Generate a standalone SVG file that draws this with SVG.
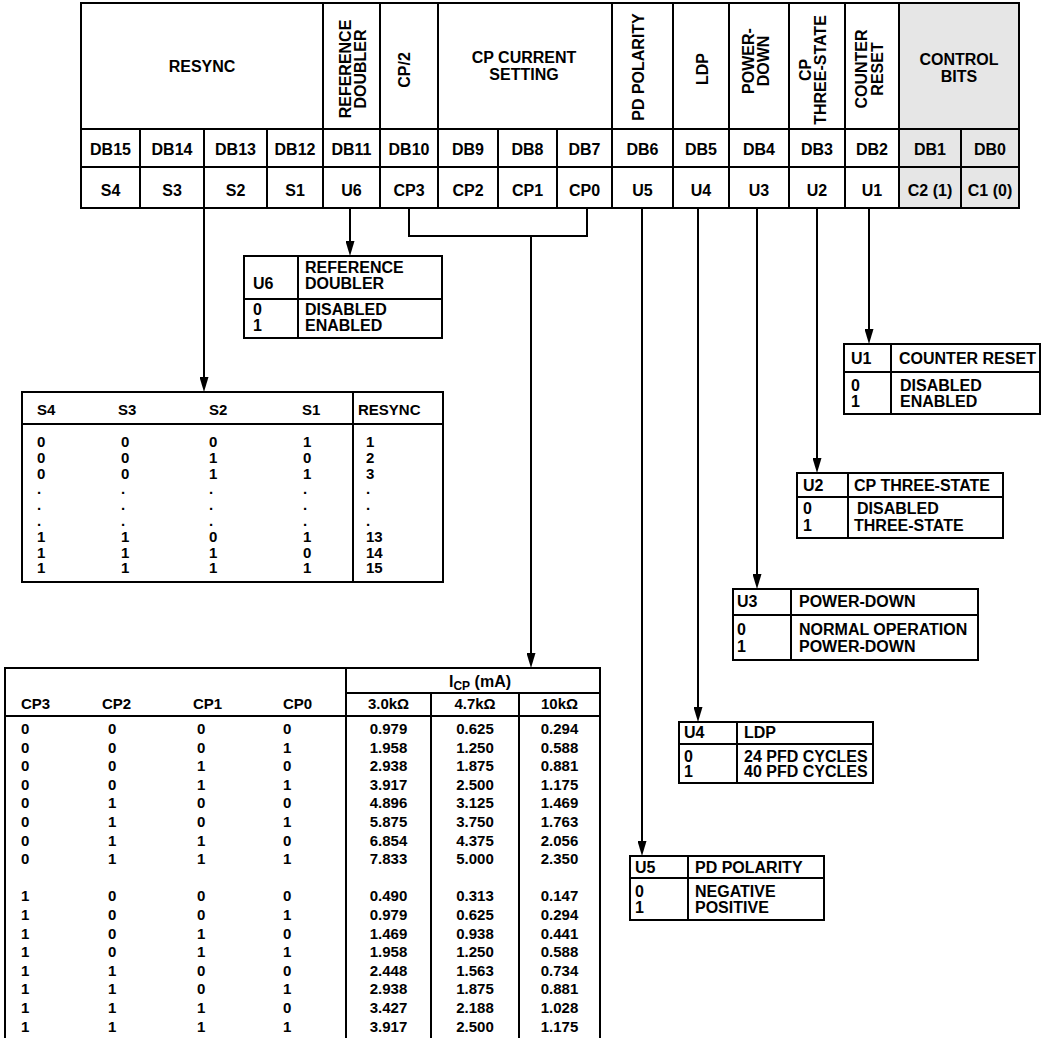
<svg xmlns="http://www.w3.org/2000/svg" width="1042" height="1038" viewBox="0 0 1042 1038">
<defs>
<style>
text{font-family:"Liberation Sans",Arial,Helvetica,sans-serif;font-weight:bold;fill:#000}
.f16{font-size:16px}
.f15{font-size:15px}
.m{text-anchor:middle}
.ln{stroke:#000;stroke-width:2;fill:none}
.box{fill:#fff;stroke:#000;stroke-width:2}
.wire{stroke:#000;stroke-width:2;fill:none}
.arr{marker-end:url(#arr)}
</style>
<marker id="arr" markerUnits="userSpaceOnUse" viewBox="0 0 15 9" markerWidth="15" markerHeight="9" refX="9" refY="4.5" orient="auto">
<path d="M0,0 L15,4.5 L0,9 Z" fill="#000"/>
</marker>
</defs>
<rect width="1042" height="1038" fill="#fff"/>

<g id="register">
<rect x="899" y="3" width="120" height="205" fill="#e6e6e6"/>
<rect x="81" y="3" width="938" height="205" class="ln"/>
<path class="ln" d="M81 129H1019M81 167H1019M323 3V208M380 3V208M438 3V208M612 3V208M673 3V208M729 3V208M789 3V208M845 3V208M899 3V208M140 129V208M204 129V208M267 129V208M498 129V208M557 129V208M961 129V208"/>
<g class="f16">
<text x="202" y="72" class="m">RESYNC</text>
<text transform="translate(351,69) rotate(-90)" class="m">REFERENCE</text>
<text transform="translate(366,69) rotate(-90)" class="m">DOUBLER</text>
<text transform="translate(410,70) rotate(-90)" class="m">CP/2</text>
<text x="524" y="63" class="m">CP CURRENT</text>
<text x="524" y="80" class="m">SETTING</text>
<text transform="translate(644,67) rotate(-90)" class="m">PD POLARITY</text>
<text transform="translate(708,69) rotate(-90)" class="m">LDP</text>
<text transform="translate(754,61) rotate(-90)" class="m">POWER-</text>
<text transform="translate(769,61) rotate(-90)" class="m">DOWN</text>
<text transform="translate(811,70) rotate(-90)" class="m">CP</text>
<text transform="translate(826,70) rotate(-90)" class="m">THREE-STATE</text>
<text transform="translate(867,69) rotate(-90)" class="m">COUNTER</text>
<text transform="translate(883,69) rotate(-90)" class="m">RESET</text>
<text x="959" y="65" class="m">CONTROL</text>
<text x="959" y="82" class="m">BITS</text>
</g>
<g class="f16 m">
<text x="110.5" y="155" class="m">DB15</text>
<text x="172" y="155" class="m">DB14</text>
<text x="235.5" y="155" class="m">DB13</text>
<text x="295" y="155" class="m">DB12</text>
<text x="351.5" y="155" class="m">DB11</text>
<text x="409" y="155" class="m">DB10</text>
<text x="468" y="155" class="m">DB9</text>
<text x="527.5" y="155" class="m">DB8</text>
<text x="584.5" y="155" class="m">DB7</text>
<text x="642.5" y="155" class="m">DB6</text>
<text x="701" y="155" class="m">DB5</text>
<text x="759" y="155" class="m">DB4</text>
<text x="817" y="155" class="m">DB3</text>
<text x="872" y="155" class="m">DB2</text>
<text x="930" y="155" class="m">DB1</text>
<text x="990" y="155" class="m">DB0</text>
<text x="110.5" y="196" class="m">S4</text>
<text x="172" y="196" class="m">S3</text>
<text x="235.5" y="196" class="m">S2</text>
<text x="295" y="196" class="m">S1</text>
<text x="351.5" y="196" class="m">U6</text>
<text x="409" y="196" class="m">CP3</text>
<text x="468" y="196" class="m">CP2</text>
<text x="527.5" y="196" class="m">CP1</text>
<text x="584.5" y="196" class="m">CP0</text>
<text x="642.5" y="196" class="m">U5</text>
<text x="701" y="196" class="m">U4</text>
<text x="759" y="196" class="m">U3</text>
<text x="817" y="196" class="m">U2</text>
<text x="872" y="196" class="m">U1</text>
<text x="930" y="196" class="m">C2 (1)</text>
<text x="990" y="196" class="m">C1 (0)</text>
</g>
</g>

<g id="connectors">
<path class="wire arr" d="M204 208V386"/>
<path class="wire arr" d="M350 208V250"/>
<path class="wire" d="M409 208V236H587V208"/>
<path class="wire arr" d="M531 236V662"/>
<path class="wire arr" d="M642 208V850"/>
<path class="wire arr" d="M698 208V716"/>
<path class="wire arr" d="M757 208V583"/>
<path class="wire arr" d="M817 208V467"/>
<path class="wire arr" d="M869 208V338"/>
</g>

<g id="u6-table" class="f16">
<rect x="244" y="256" width="198" height="82" class="box"/>
<path class="ln" d="M298 256V338M244 299H442"/>
<text x="253" y="289">U6</text>
<text x="305" y="273">REFERENCE</text>
<text x="305" y="289">DOUBLER</text>
<text x="253" y="315">0</text>
<text x="253" y="331">1</text>
<text x="305" y="315">DISABLED</text>
<text x="305" y="331">ENABLED</text>
</g>

<g id="resync-table" class="f15">
<rect x="22" y="392" width="421" height="190" class="box"/>
<path class="ln" d="M353 392V582M22 424H443"/>
<text x="37" y="415">S4</text>
<text x="118" y="415">S3</text>
<text x="209" y="415">S2</text>
<text x="302" y="415">S1</text>
<text x="358" y="415">RESYNC</text>
<text x="37" y="447"><tspan>0</tspan><tspan x="37" dy="15.8">0</tspan><tspan x="37" dy="15.8">0</tspan><tspan x="37" dy="15.8">.</tspan><tspan x="37" dy="15.8">.</tspan><tspan x="37" dy="15.8">.</tspan><tspan x="37" dy="15.8">1</tspan><tspan x="37" dy="15.8">1</tspan><tspan x="37" dy="15.8">1</tspan></text>
<text x="121" y="447"><tspan>0</tspan><tspan x="121" dy="15.8">0</tspan><tspan x="121" dy="15.8">0</tspan><tspan x="121" dy="15.8">.</tspan><tspan x="121" dy="15.8">.</tspan><tspan x="121" dy="15.8">.</tspan><tspan x="121" dy="15.8">1</tspan><tspan x="121" dy="15.8">1</tspan><tspan x="121" dy="15.8">1</tspan></text>
<text x="209" y="447"><tspan>0</tspan><tspan x="209" dy="15.8">1</tspan><tspan x="209" dy="15.8">1</tspan><tspan x="209" dy="15.8">.</tspan><tspan x="209" dy="15.8">.</tspan><tspan x="209" dy="15.8">.</tspan><tspan x="209" dy="15.8">0</tspan><tspan x="209" dy="15.8">1</tspan><tspan x="209" dy="15.8">1</tspan></text>
<text x="303" y="447"><tspan>1</tspan><tspan x="303" dy="15.8">0</tspan><tspan x="303" dy="15.8">1</tspan><tspan x="303" dy="15.8">.</tspan><tspan x="303" dy="15.8">.</tspan><tspan x="303" dy="15.8">.</tspan><tspan x="303" dy="15.8">1</tspan><tspan x="303" dy="15.8">0</tspan><tspan x="303" dy="15.8">1</tspan></text>
<text x="366" y="447"><tspan>1</tspan><tspan x="366" dy="15.8">2</tspan><tspan x="366" dy="15.8">3</tspan><tspan x="366" dy="15.8">.</tspan><tspan x="366" dy="15.8">.</tspan><tspan x="366" dy="15.8">.</tspan><tspan x="366" dy="15.8">13</tspan><tspan x="366" dy="15.8">14</tspan><tspan x="366" dy="15.8">15</tspan></text>
</g>

<g id="cp-table" class="f15">
<path class="ln" d="M5 1038V668H600V1038M346 668V1038M431 693V1038M519 693V1038M346 693H600M5 716H600"/>
<text x="449" y="687" class="f16">I<tspan font-size="12" dy="3">CP</tspan><tspan dy="-3"> (mA)</tspan></text>
<text x="21" y="709">CP3</text>
<text x="102" y="709">CP2</text>
<text x="193" y="709">CP1</text>
<text x="283" y="709">CP0</text>
<text x="388.5" y="709" class="m">3.0kΩ</text>
<text x="475" y="709" class="m">4.7kΩ</text>
<text x="559.5" y="709" class="m">10kΩ</text>
<text y="734"><tspan x="21">0</tspan><tspan x="21" dy="18.6">0</tspan><tspan x="21" dy="18.6">0</tspan><tspan x="21" dy="18.6">0</tspan><tspan x="21" dy="18.6">0</tspan><tspan x="21" dy="18.6">0</tspan><tspan x="21" dy="18.6">0</tspan><tspan x="21" dy="18.6">0</tspan><tspan x="21" dy="37.2">1</tspan><tspan x="21" dy="18.6">1</tspan><tspan x="21" dy="18.6">1</tspan><tspan x="21" dy="18.6">1</tspan><tspan x="21" dy="18.6">1</tspan><tspan x="21" dy="18.6">1</tspan><tspan x="21" dy="18.6">1</tspan><tspan x="21" dy="18.6">1</tspan></text>
<text y="734"><tspan x="108">0</tspan><tspan x="108" dy="18.6">0</tspan><tspan x="108" dy="18.6">0</tspan><tspan x="108" dy="18.6">0</tspan><tspan x="108" dy="18.6">1</tspan><tspan x="108" dy="18.6">1</tspan><tspan x="108" dy="18.6">1</tspan><tspan x="108" dy="18.6">1</tspan><tspan x="108" dy="37.2">0</tspan><tspan x="108" dy="18.6">0</tspan><tspan x="108" dy="18.6">0</tspan><tspan x="108" dy="18.6">0</tspan><tspan x="108" dy="18.6">1</tspan><tspan x="108" dy="18.6">1</tspan><tspan x="108" dy="18.6">1</tspan><tspan x="108" dy="18.6">1</tspan></text>
<text y="734"><tspan x="197">0</tspan><tspan x="197" dy="18.6">0</tspan><tspan x="197" dy="18.6">1</tspan><tspan x="197" dy="18.6">1</tspan><tspan x="197" dy="18.6">0</tspan><tspan x="197" dy="18.6">0</tspan><tspan x="197" dy="18.6">1</tspan><tspan x="197" dy="18.6">1</tspan><tspan x="197" dy="37.2">0</tspan><tspan x="197" dy="18.6">0</tspan><tspan x="197" dy="18.6">1</tspan><tspan x="197" dy="18.6">1</tspan><tspan x="197" dy="18.6">0</tspan><tspan x="197" dy="18.6">0</tspan><tspan x="197" dy="18.6">1</tspan><tspan x="197" dy="18.6">1</tspan></text>
<text y="734"><tspan x="283">0</tspan><tspan x="283" dy="18.6">1</tspan><tspan x="283" dy="18.6">0</tspan><tspan x="283" dy="18.6">1</tspan><tspan x="283" dy="18.6">0</tspan><tspan x="283" dy="18.6">1</tspan><tspan x="283" dy="18.6">0</tspan><tspan x="283" dy="18.6">1</tspan><tspan x="283" dy="37.2">0</tspan><tspan x="283" dy="18.6">1</tspan><tspan x="283" dy="18.6">0</tspan><tspan x="283" dy="18.6">1</tspan><tspan x="283" dy="18.6">0</tspan><tspan x="283" dy="18.6">1</tspan><tspan x="283" dy="18.6">0</tspan><tspan x="283" dy="18.6">1</tspan></text>
<text y="734" class="m"><tspan x="388.5">0.979</tspan><tspan x="388.5" dy="18.6">1.958</tspan><tspan x="388.5" dy="18.6">2.938</tspan><tspan x="388.5" dy="18.6">3.917</tspan><tspan x="388.5" dy="18.6">4.896</tspan><tspan x="388.5" dy="18.6">5.875</tspan><tspan x="388.5" dy="18.6">6.854</tspan><tspan x="388.5" dy="18.6">7.833</tspan><tspan x="388.5" dy="37.2">0.490</tspan><tspan x="388.5" dy="18.6">0.979</tspan><tspan x="388.5" dy="18.6">1.469</tspan><tspan x="388.5" dy="18.6">1.958</tspan><tspan x="388.5" dy="18.6">2.448</tspan><tspan x="388.5" dy="18.6">2.938</tspan><tspan x="388.5" dy="18.6">3.427</tspan><tspan x="388.5" dy="18.6">3.917</tspan></text>
<text y="734" class="m"><tspan x="475">0.625</tspan><tspan x="475" dy="18.6">1.250</tspan><tspan x="475" dy="18.6">1.875</tspan><tspan x="475" dy="18.6">2.500</tspan><tspan x="475" dy="18.6">3.125</tspan><tspan x="475" dy="18.6">3.750</tspan><tspan x="475" dy="18.6">4.375</tspan><tspan x="475" dy="18.6">5.000</tspan><tspan x="475" dy="37.2">0.313</tspan><tspan x="475" dy="18.6">0.625</tspan><tspan x="475" dy="18.6">0.938</tspan><tspan x="475" dy="18.6">1.250</tspan><tspan x="475" dy="18.6">1.563</tspan><tspan x="475" dy="18.6">1.875</tspan><tspan x="475" dy="18.6">2.188</tspan><tspan x="475" dy="18.6">2.500</tspan></text>
<text y="734" class="m"><tspan x="559.5">0.294</tspan><tspan x="559.5" dy="18.6">0.588</tspan><tspan x="559.5" dy="18.6">0.881</tspan><tspan x="559.5" dy="18.6">1.175</tspan><tspan x="559.5" dy="18.6">1.469</tspan><tspan x="559.5" dy="18.6">1.763</tspan><tspan x="559.5" dy="18.6">2.056</tspan><tspan x="559.5" dy="18.6">2.350</tspan><tspan x="559.5" dy="37.2">0.147</tspan><tspan x="559.5" dy="18.6">0.294</tspan><tspan x="559.5" dy="18.6">0.441</tspan><tspan x="559.5" dy="18.6">0.588</tspan><tspan x="559.5" dy="18.6">0.734</tspan><tspan x="559.5" dy="18.6">0.881</tspan><tspan x="559.5" dy="18.6">1.028</tspan><tspan x="559.5" dy="18.6">1.175</tspan></text>
</g>

<g id="u1-table" class="f16">
<rect x="844" y="344" width="196" height="70" class="box"/>
<path class="ln" d="M891 344V414M844 372H1040"/>
<text x="851" y="364">U1</text>
<text x="899" y="364">COUNTER RESET</text>
<text x="851" y="391">0</text>
<text x="851" y="407">1</text>
<text x="900" y="391">DISABLED</text>
<text x="900" y="407">ENABLED</text>
</g>

<g id="u2-table" class="f16">
<rect x="797" y="473" width="206" height="65" class="box"/>
<path class="ln" d="M848 473V538M797 497H1003"/>
<text x="803" y="491">U2</text>
<text x="854" y="491">CP THREE-STATE</text>
<text x="803" y="514">0</text>
<text x="803" y="531">1</text>
<text x="857" y="514">DISABLED</text>
<text x="854" y="531">THREE-STATE</text>
</g>

<g id="u3-table" class="f16">
<rect x="733" y="589" width="245" height="71" class="box"/>
<path class="ln" d="M791 589V660M733 615H978"/>
<text x="737" y="607">U3</text>
<text x="799" y="607">POWER-DOWN</text>
<text x="737" y="635">0</text>
<text x="737" y="652">1</text>
<text x="799" y="635">NORMAL OPERATION</text>
<text x="799" y="652">POWER-DOWN</text>
</g>

<g id="u4-table" class="f16">
<rect x="679" y="722" width="194" height="61" class="box"/>
<path class="ln" d="M737 722V783M679 744H873"/>
<text x="684" y="738">U4</text>
<text x="744" y="738">LDP</text>
<text x="684" y="762">0</text>
<text x="684" y="777">1</text>
<text x="744" y="762">24 PFD CYCLES</text>
<text x="744" y="777">40 PFD CYCLES</text>
</g>

<g id="u5-table" class="f16">
<rect x="630" y="856" width="194" height="64" class="box"/>
<path class="ln" d="M688 856V920M630 878H824"/>
<text x="635" y="873">U5</text>
<text x="695" y="873">PD POLARITY</text>
<text x="635" y="897">0</text>
<text x="635" y="913">1</text>
<text x="695" y="897">NEGATIVE</text>
<text x="695" y="913">POSITIVE</text>
</g>
</svg>
